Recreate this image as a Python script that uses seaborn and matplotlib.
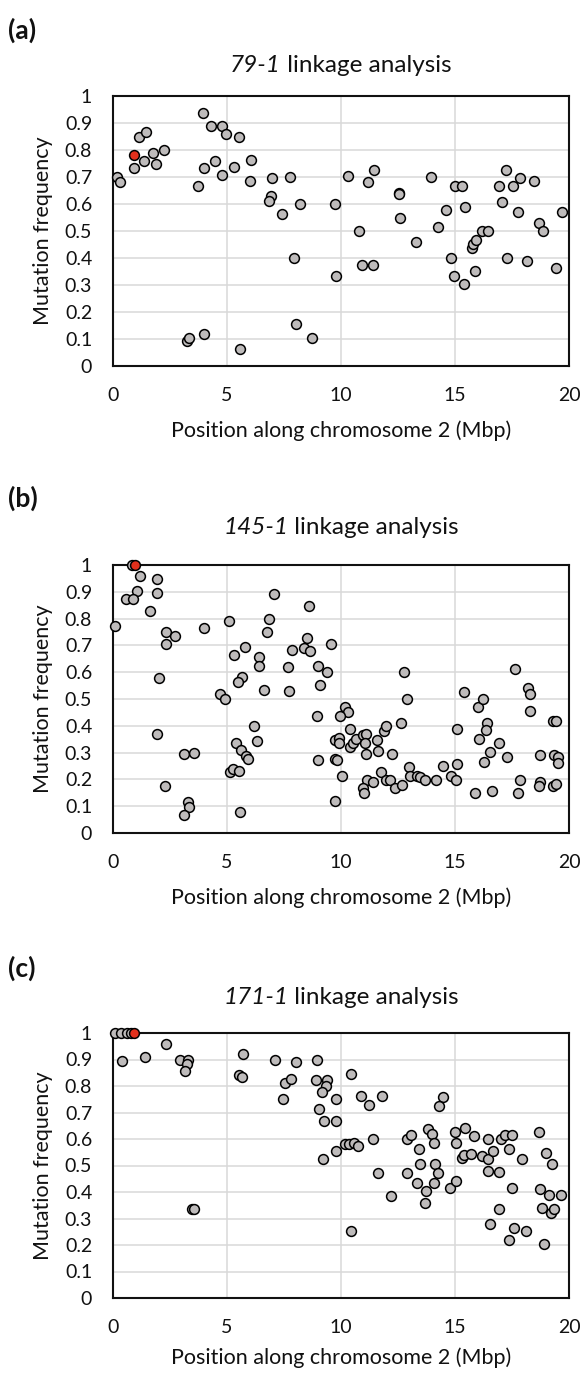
import matplotlib
matplotlib.use("Agg")
import matplotlib.pyplot as plt
import seaborn as sns
import pandas as pd

# ---- data (position in Mbp, mutation frequency) ----
pos_79 = [0.18, 0.32, 0.91, 1.13, 1.46, 1.36, 1.75, 1.87, 2.22, 3.26, 3.33, 3.99,
          3.95, 3.74, 4.00, 4.31, 4.47, 4.80, 4.97, 4.78, 5.29, 5.54, 5.58, 6.05,
          5.99, 6.97, 6.94, 6.83, 7.41, 7.78, 7.94, 8.01, 8.19, 8.73, 9.72, 9.80,
          10.30, 11.43, 11.20, 10.79, 10.93, 11.40, 12.53, 12.54, 12.60, 13.29,
          13.96, 14.60, 14.27, 15.00, 15.30, 15.46, 14.82, 14.95, 15.38, 15.87,
          16.20, 16.46, 15.76, 15.79, 15.93, 17.25, 16.94, 17.53, 17.86, 18.48,
          17.07, 17.75, 17.26, 18.15, 18.68, 18.86, 19.41, 19.68]
freq_79 = [0.700, 0.683, 0.735, 0.850, 0.868, 0.759, 0.788, 0.749, 0.800, 0.094,
           0.105, 0.120, 0.936, 0.667, 0.732, 0.888, 0.760, 0.889, 0.858, 0.707,
           0.738, 0.847, 0.062, 0.764, 0.686, 0.695, 0.630, 0.611, 0.564, 0.699,
           0.399, 0.157, 0.599, 0.105, 0.599, 0.333, 0.705, 0.726, 0.683, 0.500,
           0.375, 0.375, 0.640, 0.636, 0.549, 0.458, 0.699, 0.579, 0.516, 0.665,
           0.665, 0.590, 0.399, 0.333, 0.305, 0.352, 0.500, 0.500, 0.437, 0.451,
           0.467, 0.726, 0.665, 0.665, 0.695, 0.684, 0.607, 0.570, 0.399, 0.389,
           0.530, 0.500, 0.363, 0.570]
red_pos_79 = [0.94]
red_freq_79 = [0.78]

pos_145 = [0.85, 1.17, 1.93, 1.05, 1.94, 0.56, 0.89, 1.62, 0.09, 2.34, 2.70, 2.34,
           4.01, 2.03, 1.92, 2.28, 3.13, 3.54, 3.27, 3.35, 3.10, 5.07, 7.06, 6.83,
           6.75, 8.60, 5.80, 5.29, 6.40, 6.40, 7.87, 8.52, 8.36, 8.64, 9.58, 7.68,
           9.01, 9.37, 9.08, 5.66, 5.50, 4.68, 4.91, 6.61, 7.70, 8.95, 6.18, 6.33,
           5.41, 5.63, 5.85, 5.94, 5.13, 5.28, 5.54, 5.58, 8.99, 9.72,
           10.16, 10.32, 9.94, 10.39, 9.72, 9.91, 9.91, 9.72, 9.82, 10.04, 10.41,
           10.52, 10.67, 10.96, 11.08, 11.06, 11.08, 11.56, 11.62, 11.88, 11.96,
           12.25, 12.63, 12.76, 12.89, 11.74, 11.14, 11.40, 10.96, 11.02, 11.99,
           12.16, 12.39, 12.67, 12.98, 13.01, 13.35, 13.46, 13.67, 14.15, 14.47,
           14.81, 15.04, 15.07, 15.08, 15.39, 15.89, 16.61, 16.01, 16.24, 16.40,
           16.37, 16.04, 16.94, 16.52, 16.27, 17.28, 17.61, 18.20, 18.27, 18.27,
           17.77, 17.86, 18.73, 18.73, 18.70, 19.32, 19.41, 19.35, 19.50, 19.53,
           19.32, 19.44]
freq_145 = [1.000, 0.959, 0.946, 0.904, 0.894, 0.874, 0.874, 0.827, 0.772, 0.750,
            0.736, 0.706, 0.765, 0.579, 0.369, 0.176, 0.296, 0.300, 0.117, 0.098,
            0.068, 0.790, 0.890, 0.800, 0.750, 0.846, 0.695, 0.666, 0.656, 0.624,
            0.684, 0.726, 0.692, 0.679, 0.706, 0.619, 0.624, 0.599, 0.554, 0.583,
            0.564, 0.520, 0.500, 0.533, 0.529, 0.436, 0.400, 0.345, 0.334, 0.309,
            0.286, 0.276, 0.227, 0.238, 0.230, 0.080, 0.271, 0.118,
            0.471, 0.451, 0.436, 0.389, 0.346, 0.356, 0.334, 0.276, 0.274, 0.213,
            0.321, 0.334, 0.350, 0.367, 0.370, 0.334, 0.294, 0.347, 0.305, 0.382,
            0.400, 0.293, 0.411, 0.600, 0.500, 0.228, 0.199, 0.192, 0.168, 0.151,
            0.199, 0.199, 0.167, 0.180, 0.248, 0.213, 0.214, 0.208, 0.199, 0.199,
            0.249, 0.213, 0.199, 0.259, 0.389, 0.526, 0.148, 0.158, 0.471, 0.500,
            0.411, 0.384, 0.350, 0.334, 0.304, 0.264, 0.285, 0.611, 0.540, 0.518,
            0.457, 0.148, 0.199, 0.291, 0.189, 0.174, 0.417, 0.417, 0.291, 0.284,
            0.262, 0.177, 0.181]
red_pos_145 = [0.95]
red_freq_145 = [1.0]

pos_171 = [0.10, 0.35, 0.61, 0.80, 0.38, 1.39, 2.32, 2.95, 3.27, 3.25, 3.16, 3.48,
           3.54, 5.70, 5.53, 5.67, 7.09, 8.03, 8.95, 7.56, 7.81, 7.44, 8.92, 9.40,
           9.36, 9.17, 9.04, 9.24, 9.77, 9.80, 9.80, 9.23,
           10.45, 10.89, 11.21, 11.78, 10.16, 10.35, 10.57, 10.74, 11.40, 11.61,
           12.18, 10.42, 12.91, 13.08, 13.42, 13.83, 14.00, 14.08, 14.49, 14.28,
           12.91, 13.45, 14.12, 14.25, 13.35, 13.71, 14.09, 13.68, 14.79, 15.06,
           14.98, 15.45, 15.83, 15.06, 15.32, 15.41, 15.70, 16.18, 16.46, 16.65,
           16.43, 17.00, 17.18, 17.51, 17.35, 17.96, 18.68, 18.99, 19.25, 16.43,
           16.93, 17.51, 18.71, 19.11, 19.65, 16.93, 18.83, 19.19, 19.35, 16.53,
           17.57, 18.10, 17.35, 18.89]
freq_171 = [1.000, 1.000, 1.000, 1.000, 0.894, 0.911, 0.960, 0.900, 0.900, 0.883,
            0.856, 0.336, 0.336, 0.919, 0.843, 0.833, 0.900, 0.889, 0.900, 0.813,
            0.825, 0.751, 0.824, 0.824, 0.800, 0.778, 0.715, 0.668, 0.668, 0.751,
            0.556, 0.525,
            0.845, 0.763, 0.728, 0.763, 0.581, 0.581, 0.585, 0.573, 0.600, 0.473,
            0.386, 0.254, 0.600, 0.614, 0.564, 0.639, 0.619, 0.585, 0.760, 0.723,
            0.470, 0.504, 0.504, 0.470, 0.434, 0.403, 0.433, 0.358, 0.415, 0.441,
            0.626, 0.643, 0.613, 0.585, 0.529, 0.541, 0.545, 0.535, 0.526, 0.556,
            0.600, 0.600, 0.616, 0.616, 0.564, 0.526, 0.626, 0.548, 0.504, 0.481,
            0.476, 0.414, 0.410, 0.388, 0.388, 0.336, 0.338, 0.321, 0.336, 0.281,
            0.265, 0.254, 0.219, 0.204]
red_pos_171 = [0.91]
red_freq_171 = [1.0]

panel_letters = ["(a)", "(b)", "(c)"]
line_names = ["79-1", "145-1", "171-1"]
x_ticks = [0, 5, 10, 15, 20]
y_ticks = [0, 0.1, 0.2, 0.3, 0.4, 0.5, 0.6, 0.7, 0.8, 0.9, 1]

sns.set_theme(style="white")
plt.rcParams["font.family"] = ["Lato", "DejaVu Sans"]

W, H = 583, 1373
fig = plt.figure(figsize=(W / 100, H / 100), dpi=100)

# axes boxes in pixels: left, right, top, bottom
boxes = [(113, 569, 96, 366), (113, 569, 565, 833), (113, 569, 1033, 1298)]
letter_y = [30, 498, 968]
title_y = [66, 527, 997]
xlabel_y = [431, 898, 1358]

GRAY = "#bebbbb"
RED = "#e2301c"
INK = "#111111"

panels = [(pos_79, freq_79, red_pos_79, red_freq_79),
          (pos_145, freq_145, red_pos_145, red_freq_145),
          (pos_171, freq_171, red_pos_171, red_freq_171)]

renderer = fig.canvas.get_renderer()

for i, (px, py, rx, ry) in enumerate(panels):
    l, r, t, b = boxes[i]
    ax = fig.add_axes([l / W, 1 - b / H, (r - l) / W, (b - t) / H])
    df = pd.DataFrame({"pos": px, "freq": py})
    df_red = pd.DataFrame({"pos": rx, "freq": ry})
    sns.scatterplot(data=df, x="pos", y="freq", ax=ax, color=GRAY, s=50,
                    edgecolor="black", linewidth=1.1, clip_on=False, zorder=3)
    sns.scatterplot(data=df_red, x="pos", y="freq", ax=ax, color=RED, s=50,
                    edgecolor="black", linewidth=1.1, clip_on=False, zorder=4)
    ax.set_xlim(0, 20)
    ax.set_ylim(0, 1)
    ax.set_xticks(x_ticks)
    ax.set_yticks(y_ticks)
    ax.set_yticklabels([f"{v:g}" for v in y_ticks])
    ax.grid(True, color="#d9d9d9", linewidth=1.1)
    ax.set_axisbelow(True)
    for sp in ax.spines.values():
        sp.set_color(INK)
        sp.set_linewidth(1.5)
    ax.tick_params(axis="both", length=0, labelsize=14, colors=INK)
    ax.tick_params(axis="y", pad=15)
    ax.tick_params(axis="x", pad=15)
    ax.set_xlabel("Position along chromosome 2 (Mbp)", fontsize=15.5, color=INK)
    ax.set_ylabel("Mutation frequency", fontsize=15.5, color=INK)
    ax.xaxis.set_label_coords(0.5, (b - xlabel_y[i]) / (b - t))
    ax.xaxis.label.set_va("center")
    ax.yaxis.set_label_coords((43 - l) / (r - l), 0.5)
    ax.yaxis.label.set_va("center")

    fig.text(8 / W, 1 - letter_y[i] / H, panel_letters[i], fontsize=19,
             fontweight="bold", va="center", ha="left", color=INK)

    # title: italic line name followed by upright text, centred on the axes
    t1 = fig.text(0, 1 - title_y[i] / H, line_names[i], fontsize=17.5,
                  style="italic", va="center", ha="left", color=INK)
    t2 = fig.text(0, 1 - title_y[i] / H, " linkage analysis", fontsize=17.5,
                  va="center", ha="left", color=INK)
    w1 = t1.get_window_extent(renderer).width
    w2 = t2.get_window_extent(renderer).width
    x0 = (l + r) / 2 - (w1 + w2) / 2
    t1.set_x(x0 / W)
    t2.set_x((x0 + w1) / W)

fig.savefig("out.png", dpi=100)
